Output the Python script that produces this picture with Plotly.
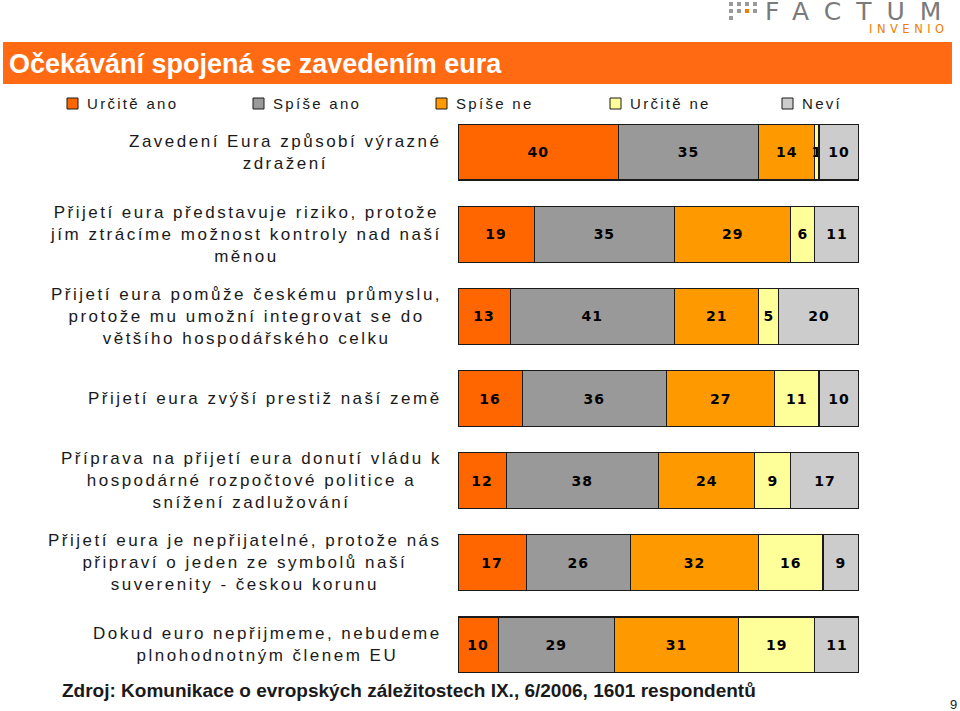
import plotly.graph_objects as go

# ---- data ----
statements = [
    ["Zavedení Eura způsobí výrazné", "zdražení"],
    ["Přijetí eura představuje riziko, protože", "jím ztrácíme možnost kontroly nad naší", "měnou"],
    ["Přijetí eura pomůže českému průmyslu,", "protože mu umožní integrovat se do", "většího hospodářského celku"],
    ["Přijetí eura zvýší prestiž naší země"],
    ["Příprava na přijetí eura donutí vládu k", "hospodárné rozpočtové politice a", "snížení zadlužování"],
    ["Přijetí eura je nepřijatelné, protože nás", "připraví o jeden ze symbolů naší", "suverenity - českou korunu"],
    ["Dokud euro nepřijmeme, nebudeme", "plnohodnotným členem EU"],
]
series_names = ["Určitě ano", "Spíše ano", "Spíše ne", "Určitě ne", "Neví"]
urcite_ano = [40, 19, 13, 16, 12, 17, 10]
spise_ano = [35, 35, 41, 36, 38, 26, 29]
spise_ne = [14, 29, 21, 27, 24, 32, 31]
urcite_ne = [1, 6, 5, 11, 9, 16, 19]
nevi = [10, 11, 20, 10, 17, 9, 11]
series_values = [urcite_ano, spise_ano, spise_ne, urcite_ne, nevi]

title_text = "Očekávání spojená se zavedením eura"
source_text = "Zdroj: Komunikace o evropských záležitostech IX., 6/2006, 1601 respondentů"
page_no = "9"

# ---- style ----
colors = ["#FF6600", "#999999", "#FF9900", "#FFFF99", "#CCCCCC"]
W, H = 960, 711
L, R, T, B = 458, 101, 111, 25
PW, PH = W - L - R, H - T - B


def px_x(p):
    return (p - L) / PW


def px_y(p):
    return 1 - (p - T) / PH


def spaced(s, ls):
    return f'<span style="letter-spacing:{ls}px">{s}</span>'


ids = list(range(len(statements)))
fig = go.Figure()
for name, vals, col in zip(series_names, series_values, colors):
    fig.add_trace(go.Bar(
        y=ids, x=vals, name=name, orientation="h",
        marker=dict(color=col, line=dict(color="#1a1a1a", width=1.2)),
        text=[spaced(str(v), 1) for v in vals], textposition="inside",
        insidetextanchor="middle",
        textfont=dict(family="DejaVu Sans", size=14, color="black", weight="bold"),
        width=0.68, showlegend=False, cliponaxis=False,
    ))

# category labels
for i, lines in enumerate(statements):
    fig.add_annotation(
        x=0, xref="paper", y=i, yref="y",
        text="<br>".join(spaced(l, 2.5) for l in lines), showarrow=False,
        xanchor="right", xshift=-14, align="center",
        font=dict(family="Liberation Sans", size=17, color="#1a1a1a"),
    )

# title banner
fig.add_shape(type="rect", xref="paper", yref="paper",
              x0=px_x(3), x1=px_x(952), y0=px_y(84), y1=px_y(42),
              fillcolor="#FF6A13", line=dict(width=0), layer="below")
fig.add_annotation(xref="paper", yref="paper", x=px_x(7), y=px_y(64),
                   xanchor="left", yanchor="middle", showarrow=False,
                   text=title_text,
                   font=dict(family="Liberation Sans", size=27, color="white", weight="bold"))

# legend (manual)
leg_x = [67, 253, 436, 610, 782]
for name, col, lx in zip(series_names, colors, leg_x):
    fig.add_shape(type="rect", xref="paper", yref="paper",
                  x0=px_x(lx), x1=px_x(lx + 11), y0=px_y(109), y1=px_y(98),
                  fillcolor=col, line=dict(color="#1a1a1a", width=1))
    fig.add_annotation(xref="paper", yref="paper", x=px_x(lx + 18), y=px_y(103.5),
                       xanchor="left", yanchor="middle", showarrow=False,
                       text=spaced(name, 2.3),
                       font=dict(family="Liberation Sans", size=15, color="#1a1a1a"))

# source + page number
fig.add_annotation(xref="paper", yref="paper", x=px_x(60), y=px_y(690),
                   xanchor="left", yanchor="middle", showarrow=False, text=source_text,
                   font=dict(family="Liberation Sans Narrow, Liberation Sans", size=19,
                             color="#1a1a1a", weight="bold"))
fig.add_annotation(xref="paper", yref="paper", x=px_x(959), y=px_y(704),
                   xanchor="right", yanchor="middle", showarrow=False, text=page_no,
                   font=dict(family="Liberation Sans", size=13, color="#1a1a1a"))

# logo
fig.add_annotation(xref="paper", yref="paper", x=px_x(763), y=px_y(12),
                   xanchor="left", yanchor="middle", showarrow=False,
                   text=spaced("FACTUM", 15),
                   font=dict(family="DejaVu Sans", size=25, color="#7a7a7a"))
fig.add_annotation(xref="paper", yref="paper", x=px_x(867), y=px_y(29),
                   xanchor="left", yanchor="middle", showarrow=False,
                   text=spaced("INVENIO", 4.5),
                   font=dict(family="DejaVu Sans", size=11.5, color="#F07D00"))
dots = [(729, 2, "#9a9a9a"), (737, 2, "#9a9a9a"), (745, 2, "#9a9a9a"), (753, 2, "#9a9a9a"),
        (729, 9, "#9a9a9a"), (737, 9, "#9a9a9a"), (745, 9, "#F07D00"), (753, 9, "#9a9a9a"),
        (729, 16, "#9a9a9a")]
for dx, dy, dc in dots:
    fig.add_shape(type="rect", xref="paper", yref="paper",
                  x0=px_x(dx), x1=px_x(dx + 4), y0=px_y(dy + 4), y1=px_y(dy),
                  fillcolor=dc, line=dict(width=0))

fig.update_layout(
    barmode="stack", width=W, height=H,
    margin=dict(l=L, r=R, t=T, b=B),
    paper_bgcolor="white", plot_bgcolor="white",
    uniformtext=dict(minsize=14, mode="show"),
    xaxis=dict(range=[0, 100], visible=False, fixedrange=True),
    yaxis=dict(range=[len(statements) - 0.5, -0.5], visible=False, fixedrange=True),
    font=dict(family="Liberation Sans"),
)

fig.write_html("out.html", config={"displayModeBar": False},
               post_script="document.body.style.margin='0';")
